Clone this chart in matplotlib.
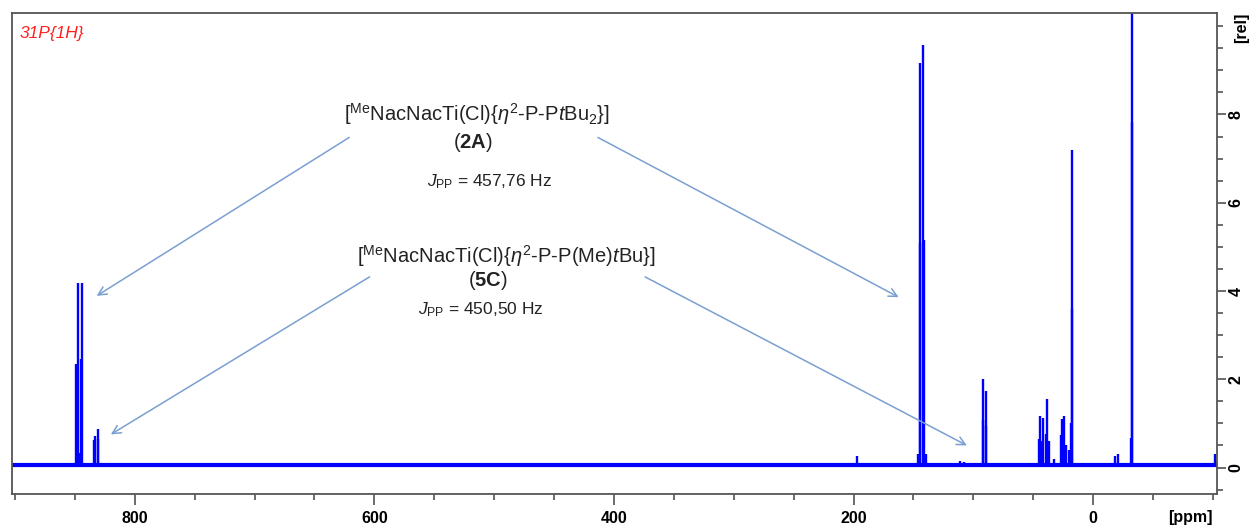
import matplotlib
matplotlib.use("Agg")
import matplotlib.pyplot as plt
from matplotlib.ticker import MultipleLocator

plt.rcParams['font.family'] = ['Liberation Sans', 'DejaVu Sans']
plt.rcParams['mathtext.fontset'] = 'custom'
plt.rcParams['mathtext.rm'] = 'Liberation Sans'
plt.rcParams['mathtext.it'] = 'Liberation Sans:italic'
plt.rcParams['mathtext.bf'] = 'Liberation Sans:bold'

# ---- data: peak positions (ppm) and heights (rel) ----
peak_ppm = [848.8, 847.4, 845.0, 843.7, 846.0,
            834.0, 833.4, 830.9, 830.3,
            197.0, 146.5, 144.8, 144.5, 141.7, 141.4, 139.5,
            111.0, 108.0,
            92.3, 92.0, 89.5, 89.2,
            45.4, 44.3, 42.7, 41.6, 39.0, 38.5, 36.6, 33.0,
            26.8, 25.9, 24.5, 22.6, 19.8, 18.3, 17.8, 17.6,
            -18.4, -20.9, -32.0, -32.4, -32.8, -101.5]
peak_int = [2.34, 4.18, 2.45, 4.18, 0.32,
            0.62, 0.72, 0.87, 0.65,
            0.25, 0.30, 5.09, 9.17, 9.57, 5.16, 0.30,
            0.15, 0.12,
            2.00, 1.07, 1.73, 0.93,
            0.64, 1.17, 0.61, 1.13, 0.77, 1.55, 0.61, 0.20,
            0.73, 1.10, 1.17, 0.50, 0.40, 1.00, 7.20, 3.60,
            0.27, 0.30, 0.66, 11.0, 7.83, 0.30]
baseline_ppm = [905.0, -106.0]
baseline_int = [0.06, 0.06]

x_ticks = [800, 600, 400, 200, 0]
y_ticks = [0, 2, 4, 6, 8]

label_2A = r"[$^{\mathrm{Me}}$NacNacTi(Cl){$\mathit{\eta}^{2}$-P-P$\mathit{t}$Bu$_{2}$}]"
label_5C = r"[$^{\mathrm{Me}}$NacNacTi(Cl){$\mathit{\eta}^{2}$-P-P(Me)$\mathit{t}$Bu}]"
J_2A = r"$\mathit{J}_{\mathrm{PP}}$ = 457,76 Hz"
J_5C = r"$\mathit{J}_{\mathrm{PP}}$ = 450,50 Hz"

# ---- figure ----
fig = plt.figure(figsize=(12.49, 5.27), dpi=100)
ax = fig.add_axes([12/1249, 33/527, 1204.5/1249, 481/527])

blue = '#0000ff'
ax.plot(baseline_ppm, baseline_int, color=blue, lw=3.0, solid_capstyle='butt')
ax.vlines(peak_ppm, 0.06, peak_int, color=blue, lw=1.7)

ax.set_xlim(902.5, -103)
ax.set_ylim(-0.6, 10.3)

ax.yaxis.tick_right()
ax.yaxis.set_label_position('right')
ax.set_xticks(x_ticks)
ax.set_yticks(y_ticks)
ax.xaxis.set_minor_locator(MultipleLocator(50))
ax.yaxis.set_minor_locator(MultipleLocator(0.5))
ax.tick_params(axis='x', which='major', direction='out', length=7.9, width=1.1,
               color='#444444', labelsize=11.5, pad=4.5)
ax.tick_params(axis='x', which='minor', direction='out', length=4.3, width=1.1,
               color='#444444')
ax.tick_params(axis='y', which='major', direction='out', length=6.5, width=1.1,
               color='#444444', labelsize=11.5, pad=2)
ax.tick_params(axis='y', which='minor', direction='out', length=4.3, width=1.1,
               color='#444444')
for lab in ax.get_xticklabels() + ax.get_yticklabels():
    lab.set_fontweight('bold')
for lab in ax.get_yticklabels():
    lab.set_rotation(90)
    lab.set_va('center')
for s in ax.spines.values():
    s.set_color('#555555')
    s.set_linewidth(1.3)

fig.text(1190/1249, 1 - 517.5/527, '[ppm]', ha='center', va='center',
         fontsize=11.5, fontweight='bold')
fig.text(1241.5/1249, 1 - 27.5/527, '[rel]', ha='center', va='center',
         fontsize=11.5, fontweight='bold', rotation=90)
ax.text(0.006, 0.972, '31P{1H}', transform=ax.transAxes, color='#ff2020',
        fontsize=12.5, style='italic', ha='left', va='top')

txtc = '#222222'
fs = 14.5
ax.text(514, 8.0, label_2A, ha='center', va='center', fontsize=fs, color=txtc)
ax.text(518, 7.36, r"($\mathbf{2A}$)", ha='center', va='center', fontsize=fs, color=txtc)
ax.text(504, 6.48, J_2A, ha='center', va='center', fontsize=12.5, color=txtc)
ax.text(490, 4.8, label_5C, ha='center', va='center', fontsize=fs, color=txtc)
ax.text(505, 4.23, r"($\mathbf{5C}$)", ha='center', va='center', fontsize=fs, color=txtc)
ax.text(511, 3.57, J_5C, ha='center', va='center', fontsize=12.5, color=txtc)

arrowc = '#7b9fd1'
arrows = [((621, 7.48), (831.8, 3.89)),
          ((413.4, 7.48), (162.3, 3.86)),
          ((604, 4.32), (820.0, 0.75)),
          ((374, 4.32), (105.4, 0.50))]
for tail, head in arrows:
    ax.annotate('', xy=head, xytext=tail,
                arrowprops=dict(arrowstyle='->,head_length=0.6,head_width=0.3',
                                color=arrowc, lw=1.1, shrinkA=0, shrinkB=0))

fig.savefig('out.png', dpi=100)
